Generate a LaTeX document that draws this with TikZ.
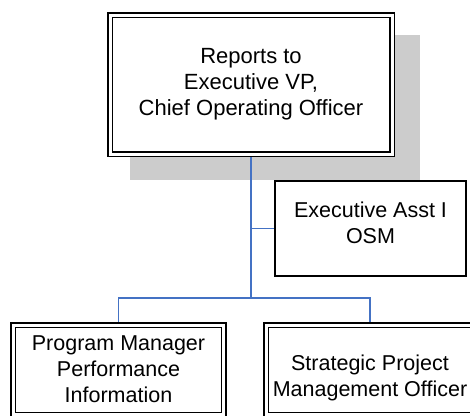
\documentclass[tikz,border=0pt]{standalone}
\usepackage{fontspec}
\setmainfont{Liberation Sans}
\usetikzlibrary{backgrounds}
\definecolor{linkblue}{RGB}{68,114,196}
\definecolor{shadowgray}{RGB}{204,204,204}
\tikzset{
  dblbox/.style={draw=black, double=white, double distance=3pt, line width=1.5pt,
    fill=white, inner sep=0pt, align=center, font=\fontsize{22}{26}\selectfont},
  plainbox/.style={draw=black, line width=1.6pt, fill=white, inner sep=0pt},
  shadowbox/.style={fill=shadowgray, inner sep=0pt},
  link/.style={draw=linkblue, line width=1.8pt},
  lbl/.style={align=center, inner sep=0pt, font=\fontsize{21.5}{26}\selectfont},
}
\begin{document}
\begin{tikzpicture}[x=1pt, y=-1pt]
  \useasboundingbox (0,0) rectangle (470,415);
  \clip (0,0) rectangle (470,415);

  % boxes
  \node[dblbox, minimum width=282pt, minimum height=139pt] (coo) at (251,84.5)
    {Reports to\\Executive VP,\\Chief Operating Officer};
  \node[plainbox, minimum width=191.4pt, minimum height=95.4pt] (asst) at (370.5,228.5) {};
  \node[lbl] (asstlbl) at (370.5,223) {Executive Asst I\\OSM};
  \node[dblbox, minimum width=210.5pt, minimum height=89.5pt] (pm) at (118.5,370) {};
  \node[lbl] (pmlbl) at (118.5,369) {Program Manager\\Performance\\Information};
  \node[dblbox, minimum width=207.5pt, minimum height=89.5pt] (spm) at (370,370) {};
  \node[lbl] (spmlbl) at (370,378) {Strategic Project\\Management Officer};

  \coordinate (bus) at (251,298);

  \begin{pgfonlayer}{background}
    % drop shadow behind the top box
    \node[shadowbox, minimum width=290pt, minimum height=145pt] (shade) at (275,107.5) {};
    % connectors
    \draw[link] (coo.south) -- (bus);
    \draw[link] (coo.south |- asst.west) -- (asst.west);
    \draw[link] (pm.north) -- (pm.north |- bus) -- (spm.north |- bus) -- (spm.north);
  \end{pgfonlayer}
\end{tikzpicture}
\end{document}
